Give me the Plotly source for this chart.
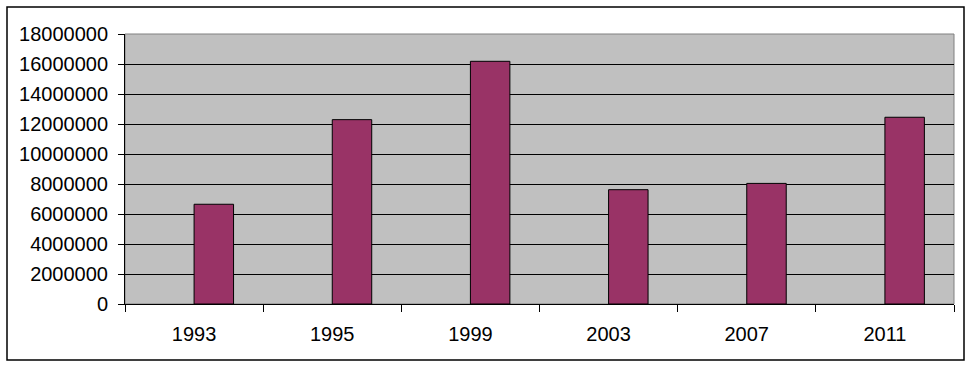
import plotly.graph_objects as go

years = ["1993", "1995", "1999", "2003", "2007", "2011"]
values = [6650000, 12290000, 16180000, 7620000, 8040000, 12450000]
y_ticks = [0, 2000000, 4000000, 6000000, 8000000, 10000000, 12000000, 14000000, 16000000, 18000000]

W, H = 973, 388
L, R, T, B = 125, 19, 34, 84
pw, ph = W - L - R, H - T - B

def px_to_paper_x(px):
    return (px - L) / pw

def px_to_paper_y(py):
    return (H - B - py) / ph

fig = go.Figure()
fig.add_trace(go.Bar(
    x=years, y=values,
    width=2 / 7, offset=0,
    marker=dict(color="#993366", line=dict(color="black", width=1)),
    showlegend=False,
))

font = dict(family="Arial, Liberation Sans, sans-serif", size=20, color="black")

fig.update_layout(
    width=W, height=H,
    margin=dict(l=L, r=R, t=T, b=B, pad=0),
    paper_bgcolor="white",
    plot_bgcolor="#C0C0C0",
    font=font,
    xaxis=dict(
        type="category",
        tickson="boundaries",
        ticks="outside", ticklen=7, tickcolor="black", tickwidth=1,
        showline=True, linecolor="black", linewidth=1,
        showgrid=False,
        range=[-0.5, 5.5],
        tickfont=font,
        ticklabelstandoff=12,
    ),
    yaxis=dict(
        range=[0, 18000000],
        tickvals=y_ticks,
        ticktext=[str(v) for v in y_ticks],
        ticks="outside", ticklen=6, tickcolor="black", tickwidth=1,
        showline=True, linecolor="black", linewidth=1,
        showgrid=True, gridcolor="black", gridwidth=1,
        zeroline=False,
        tickfont=font,
        ticklabelstandoff=6,
    ),
    shapes=[
        dict(type="rect", xref="paper", yref="paper", x0=0, y0=0, x1=1, y1=1,
             line=dict(color="#808080", width=1), layer="below"),
        dict(type="rect", xref="paper", yref="paper",
             x0=px_to_paper_x(7), x1=px_to_paper_x(964),
             y0=px_to_paper_y(360), y1=px_to_paper_y(7),
             line=dict(color="black", width=1.5)),
    ],
)

fig.write_html("out.html")
